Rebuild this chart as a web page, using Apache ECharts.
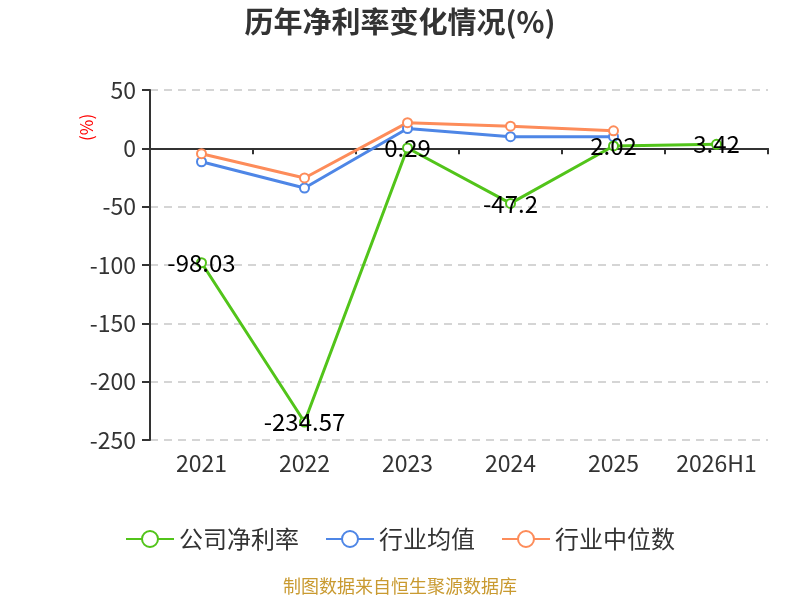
<!DOCTYPE html>
<html><head><meta charset="utf-8">
<script src="https://cdn.jsdelivr.net/npm/echarts@6/dist/echarts.min.js"></script>
<style>html,body{margin:0;padding:0;background:#fff}#c{width:800px;height:600px}</style>
</head><body><div id="c"></div>
<script>
const categories = ['2021','2022','2023','2024','2025','2026H1'];
const companyNetMargin = [-98.03, -234.57, 0.29, -47.2, 2.02, 3.42];
const industryAverage = [-11.5, -34, 17, 10, 10, null];
const industryMedian = [-4.6, -25.4, 22, 19, 15, null];
const seriesNames = ['公司净利率', '行业均值', '行业中位数'];
const colors = ['#52c41a', '#4e86e6', '#fd8c5a'];

const font = '"Noto Sans CJK SC", "Noto Sans", sans-serif';
const chart = echarts.init(document.getElementById('c'));
chart.setOption({
  animation: false,
  textStyle: { fontFamily: font },
  title: {
    text: '历年净利率变化情况(%)', left: 'center', top: 2,
    textStyle: { fontSize: 29, fontWeight: 'bold', color: '#333', fontFamily: font }
  },
  legend: {
    bottom: 44, left: 'center', itemWidth: 48, itemHeight: 20, itemGap: 26,
    textStyle: { fontSize: 24, color: '#333', fontFamily: font },
    data: seriesNames
  },
  graphic: [
    { type: 'text', left: 'center', top: 577,
      style: { text: '制图数据来自恒生聚源数据库', fill: '#c99a30', fontSize: 18, fontFamily: font } },
    { type: 'text', x: 78, y: 141, rotation: Math.PI / 2,
      style: { text: '(%)', fill: '#ff0000', fontSize: 17, fontFamily: font } }
  ],
  grid: { left: 150, right: 32, top: 90, bottom: 160 },
  xAxis: [
    { type: 'category', data: categories, position: 'bottom',
      axisLine: { show: false, onZero: false }, axisTick: { show: false },
      axisLabel: { interval: 0, fontSize: 23, color: '#333', margin: 12, fontFamily: font } },
    { type: 'category', data: categories, position: 'bottom',
      axisLine: { show: true, onZero: true, lineStyle: { color: '#333', width: 2 } },
      axisTick: { show: true, interval: 0, length: 6, lineStyle: { color: '#333', width: 2 } },
      axisLabel: { show: false } }
  ],
  yAxis: {
    type: 'value', min: -250, max: 50, interval: 50,
    axisLine: { show: true, lineStyle: { color: '#333', width: 2 } },
    axisTick: { show: true, length: 8, lineStyle: { color: '#333', width: 2 } },
    axisLabel: { fontSize: 23, color: '#333', margin: 14, fontFamily: font },
    splitLine: { show: true, lineStyle: { type: [8, 6], color: '#c8c8c8', width: 1.5 } }
  },
  series: [
    { name: seriesNames[0], type: 'line', data: companyNetMargin, xAxisIndex: 0,
      symbol: 'emptyCircle', symbolSize: 9, z: 3,
      lineStyle: { color: colors[0], width: 3 }, itemStyle: { color: colors[0], borderWidth: 2 },
      label: { show: true, position: 'inside', fontSize: 24, color: '#000', fontFamily: font } },
    { name: seriesNames[1], type: 'line', data: industryAverage, xAxisIndex: 0,
      symbol: 'emptyCircle', symbolSize: 9, z: 2,
      lineStyle: { color: colors[1], width: 3 }, itemStyle: { color: colors[1], borderWidth: 2 } },
    { name: seriesNames[2], type: 'line', data: industryMedian, xAxisIndex: 0,
      symbol: 'emptyCircle', symbolSize: 9, z: 2,
      lineStyle: { color: colors[2], width: 3 }, itemStyle: { color: colors[2], borderWidth: 2 } }
  ]
});
</script></body></html>
